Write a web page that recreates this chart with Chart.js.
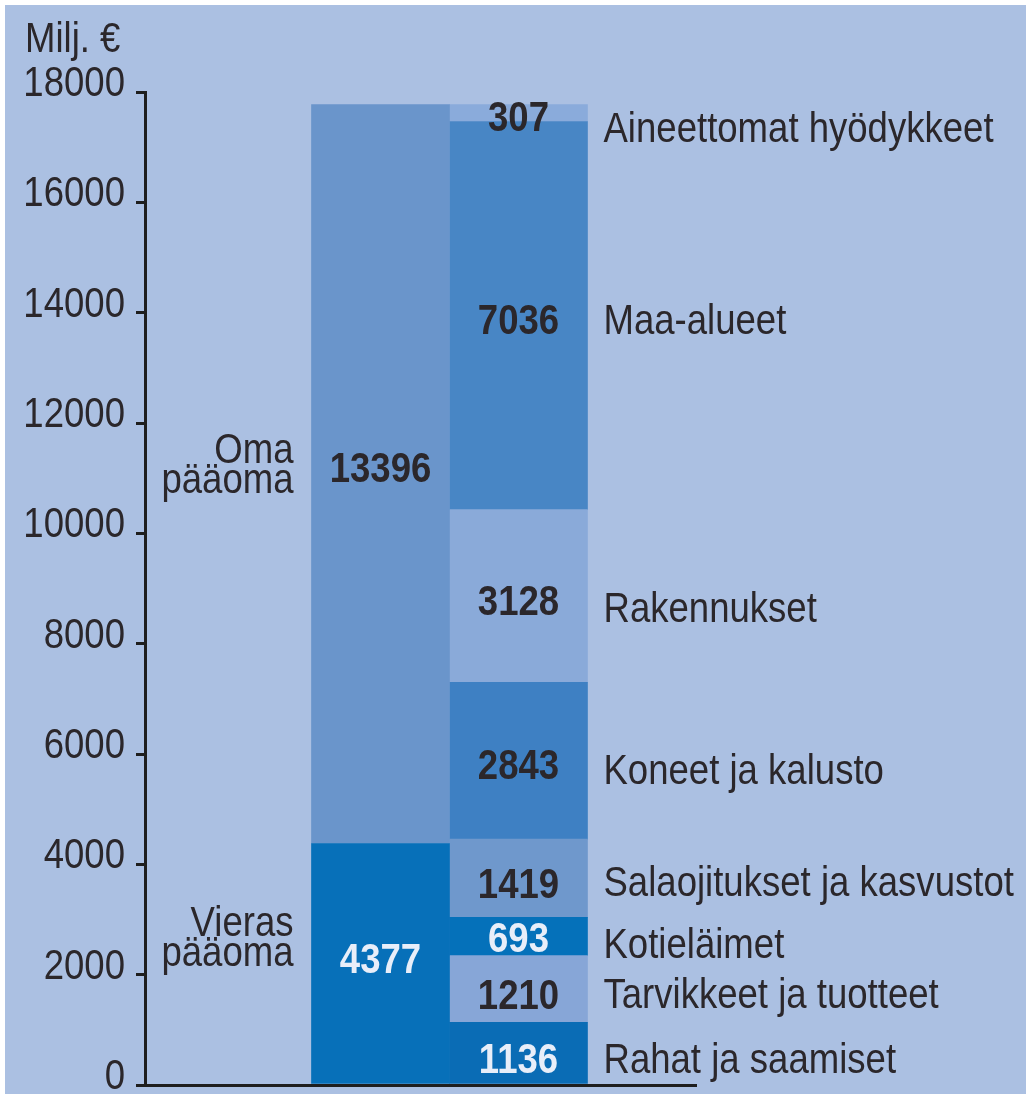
<!DOCTYPE html>
<html><head><meta charset="utf-8">
<script src="https://cdn.jsdelivr.net/npm/chart.js@4.4.1/dist/chart.umd.min.js"></script>
<style>html,body{margin:0;padding:0;background:#fff;} canvas{display:block;}</style>
</head><body>
<canvas id="c" width="1026" height="1094"></canvas>
<script>
// ---- data ----
const yTicks = [0, 2000, 4000, 6000, 8000, 10000, 12000, 14000, 16000, 18000];
const barSlots = [1, 2];
const unitLabel = 'Milj. €';
const fundingNames = [['Vieras', 'pääoma'], ['Oma', 'pääoma']];
const fundingValues = [4377, 13396];
const assetNames = ['Rahat ja saamiset', 'Tarvikkeet ja tuotteet', 'Kotieläimet', 'Salaojitukset ja kasvustot',
  'Koneet ja kalusto', 'Rakennukset', 'Maa-alueet', 'Aineettomat hyödykkeet'];
const assetValues = [1136, 1210, 693, 1419, 2843, 3128, 7036, 307];

// ---- styles ----
const fundingColors = ['#0770b9', '#6a95cb'];
const assetColors = ['#0a6cb5', '#87a6d7', '#0571ba', '#6f98cc', '#3e80c3', '#8aaad9', '#4886c5', '#8aabdb'];
const DARK = '#2b272b', LIGHT = '#e8eef9';
const fundingTextColors = [LIGHT, DARK];
const assetTextColors = [LIGHT, DARK, LIGHT, DARK, DARK, DARK, DARK, DARK];
const fundingValueNudge = [-6, -7];
const fundingNameNudge = [-28, -11];
const assetValueNudge = [5, 5, 0.5, 4, 3, 4, 3.5, 3];
const assetNameNudge = [5, 3.5, 6, 2, 8, 11, 3.5, 14];
const FONT = "'Liberation Sans', Arial, Helvetica, sans-serif";
const FS = 43, CAP = 0.716, NARROW = 0.85;

const datasets = [];
fundingValues.forEach((v, i) => datasets.push({
  label: fundingNames[i].join(' '), data: [{x: barSlots[0], y: v}],
  backgroundColor: fundingColors[i], borderWidth: 0
}));
assetValues.forEach((v, i) => datasets.push({
  label: assetNames[i], data: [{x: barSlots[1], y: v}],
  backgroundColor: assetColors[i], borderWidth: 0
}));

function txt(ctx, s, x, cy, bold, color, align) {
  ctx.save();
  ctx.translate(x, 0);
  ctx.scale(NARROW, 1);
  ctx.font = (bold ? 'bold ' : '') + FS + 'px ' + FONT;
  ctx.fillStyle = color;
  ctx.textAlign = align;
  ctx.textBaseline = 'alphabetic';
  ctx.fillText(s, 0, cy + FS * CAP / 2);
  ctx.restore();
}

const bgPlugin = {
  id: 'bg',
  beforeDraw(chart) {
    const c = chart.ctx;
    c.save();
    c.fillStyle = '#ffffff';
    c.fillRect(0, 0, chart.width, chart.height);
    c.fillStyle = '#abc0e2';
    c.fillRect(5, 5, chart.width - 5, chart.height - 5);
    c.restore();
  }
};

const labelPlugin = {
  id: 'labels',
  afterDatasetsDraw(chart) {
    const ctx = chart.ctx;
    const nF = fundingValues.length;
    fundingValues.forEach((v, i) => {
      const el = chart.getDatasetMeta(i).data[0];
      const mid = (el.y + el.base) / 2;
      txt(ctx, String(v), el.x, mid + fundingValueNudge[i], true, fundingTextColors[i], 'center');
      const L = 30, c = FS * CAP;
      const b1c = mid + fundingNameNudge[i] - L / 2;
      const xr = el.x - el.width / 2 - 18;
      fundingNames[i].forEach((line, k) => {
        txt(ctx, line, xr, b1c + k * L, false, DARK, 'right');
      });
    });
    assetValues.forEach((v, i) => {
      const el = chart.getDatasetMeta(nF + i).data[0];
      const mid = (el.y + el.base) / 2;
      txt(ctx, String(v), el.x, mid + assetValueNudge[i], true, assetTextColors[i], 'center');
      txt(ctx, assetNames[i], el.x + el.width / 2 + 16, mid + assetNameNudge[i], false, DARK, 'left');
    });
    txt(ctx, unitLabel, 25, chart.chartArea.top - 40 - FS * CAP / 2, false, DARK, 'left');
  }
};

function narrowLabels(s) {
  if (s._narrowed) return;
  const orig = Object.getPrototypeOf(s).drawLabels;
  s.drawLabels = function (area) {
    const ctx = this.ctx;
    const ax = this.right - this.options.grid.tickLength - this.options.ticks.padding;
    ctx.save();
    ctx.translate(ax, 0); ctx.scale(NARROW, 1); ctx.translate(-ax, 0);
    orig.call(this, area);
    ctx.restore();
  };
  s._narrowed = true;
}

new Chart(document.getElementById('c'), {
  type: 'bar',
  data: { datasets },
  options: {
    responsive: false,
    devicePixelRatio: 1,
    animation: false,
    barPercentage: 1,
    categoryPercentage: 1,
    layout: { padding: { top: 92, left: 0, right: 330, bottom: 9 } },
    plugins: { legend: { display: false }, tooltip: { enabled: false } },
    scales: {
      x: {
        type: 'linear', stacked: true, offset: false,
        min: -0.7065, max: 3.2863,
        afterBuildTicks: s => { s.ticks = barSlots.map(v => ({ value: v })); },
        afterFit: s => { s.height = 0; },
        ticks: { display: false },
        grid: { display: false },
        border: { display: true, color: '#1e1e1e', width: 3 }
      },
      y: {
        stacked: true, min: 0, max: 18000,
        afterBuildTicks: s => { s.ticks = yTicks.map(v => ({ value: v })); },
        afterFit: s => { s.width = 145; s.paddingTop = 0; s.paddingBottom = 0; narrowLabels(s); },
        ticks: {
          color: DARK, padding: 11, labelOffset: -8,
          font: { family: FONT, size: FS },
          callback: v => String(v)
        },
        grid: { display: true, drawOnChartArea: false, drawTicks: true, tickLength: 9, color: '#1e1e1e', lineWidth: 3 },
        border: { display: true, color: '#1e1e1e', width: 3 }
      }
    }
  },
  plugins: [bgPlugin, labelPlugin]
});
</script></body></html>
